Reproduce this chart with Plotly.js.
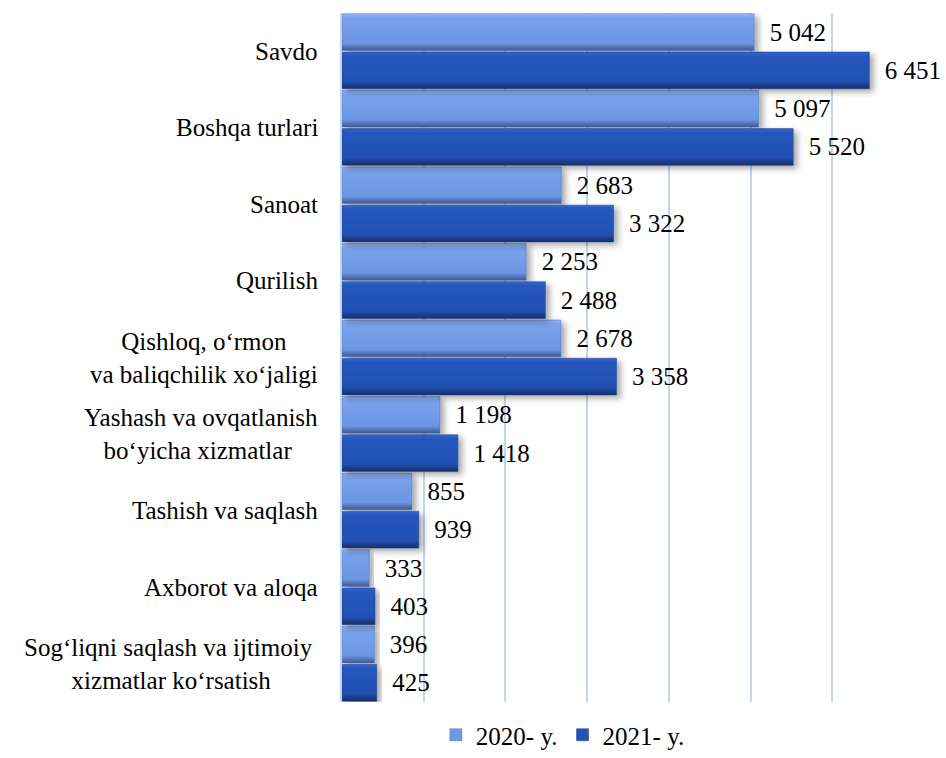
<!DOCTYPE html>
<html>
<head>
<meta charset="utf-8">
<script src="https://cdn.plot.ly/plotly-3.0.1.min.js"></script>
<style>body{margin:0;background:#fff}#chart{width:946px;height:758px}</style>
</head>
<body>
<div id="chart"></div>
<script>
const categories = ["Savdo", "Boshqa turlari", "Sanoat", "Qurilish", "Qishloq, o‘rmon<br>va baliqchilik xo‘jaligi", "Yashash va ovqatlanish<br>bo‘yicha xizmatlar ", "Tashish va saqlash", "Axborot va aloqa", "Sog‘liqni saqlash va ijtimoiy <br>xizmatlar ko‘rsatish"];
const values2020 = [5042, 5097, 2683, 2253, 2678, 1198, 855, 333, 396];
const values2021 = [6451, 5520, 3322, 2488, 3358, 1418, 939, 403, 425];
const seriesNames = ["2020- y.", "2021- y."];

function fmt(v){ return String(v).replace(/\B(?=(\d{3})+(?!\d))/g, " "); }
const pad = "\u00a0\u00a0";

const font = "Liberation Serif";
const FS = 25;

const traces = [
  {type:"bar", orientation:"h", name:seriesNames[0], y:categories, x:values2020,
   marker:{color:"#6f99e6", line:{color:"#4a6fb5", width:0.5}},
   text:values2020.map(v=>pad+fmt(v)), textposition:"outside", cliponaxis:false,
   textfont:{family:font, size:FS, color:"#000"}},
  {type:"bar", orientation:"h", name:seriesNames[1], y:categories, x:values2021,
   marker:{color:"#2451b5", line:{color:"#1a3a85", width:0.5}},
   text:values2021.map(v=>pad+fmt(v)), textposition:"outside", cliponaxis:false,
   textfont:{family:font, size:FS, color:"#000"}}
];

const annotations = categories.map(c=>({
  xref:"paper", yref:"y", x:0, y:c, xanchor:"right", yanchor:"middle",
  xshift:-22, text:c, showarrow:false, align:"center",
  font:{family:font, size:FS, color:"#000"}
}));

const layout = {
  width:946, height:758,
  margin:{l:342, r:31, t:13, b:56},
  paper_bgcolor:"#fff", plot_bgcolor:"#fff",
  barmode:"group", bargap:0.0, bargroupgap:0.04,
  font:{family:font, size:FS, color:"#000"},
  xaxis:{range:[0,7010], dtick:1000, tick0:0, showgrid:true, gridcolor:"#bdd7ee", gridwidth:1.5,
         showticklabels:false, zeroline:false, showline:false, ticks:""},
  yaxis:{autorange:"reversed", showticklabels:false, showline:true, linecolor:"#bdd7ee",
         linewidth:1.5, ticks:"", showgrid:false},
  showlegend:true,
  legend:{orientation:"h", x:0.595, xref:"container", xanchor:"center", y:0, yref:"container", yanchor:"bottom",
          font:{family:font, size:FS, color:"#000"}, itemwidth:30, traceorder:"normal"},
  annotations:annotations
};

Plotly.newPlot("chart", traces, layout, {displayModeBar:false}).then(gd=>{
  const svg = gd.querySelector("svg.main-svg");
  const ns = "http://www.w3.org/2000/svg";
  let defs = svg.querySelector("defs");
  if(!defs){ defs = document.createElementNS(ns,"defs"); svg.insertBefore(defs, svg.firstChild); }
  function grad(id, stops){
    const g = document.createElementNS(ns,"linearGradient");
    g.setAttribute("id",id); g.setAttribute("x1","0"); g.setAttribute("y1","0");
    g.setAttribute("x2","0"); g.setAttribute("y2","1");
    stops.forEach(([o,c])=>{const s=document.createElementNS(ns,"stop");
      s.setAttribute("offset",o); s.setAttribute("stop-color",c); g.appendChild(s);});
    defs.appendChild(g);
  }
  grad("g2020",[["0","#94b8f7"],["0.12","#7aa3ec"],["0.8","#6d96e2"],["0.9","#5675b8"],["1","#3f5a96"]]);
  grad("g2021",[["0","#3465cf"],["0.12","#2656bd"],["0.8","#2250b3"],["0.9","#1c3d8a"],["1","#15306d"]]);
  const f = document.createElementNS(ns,"filter");
  f.setAttribute("id","shadow"); f.setAttribute("x","-5%"); f.setAttribute("y","-20%");
  f.setAttribute("width","120%"); f.setAttribute("height","160%");
  const ds = document.createElementNS(ns,"feDropShadow");
  ds.setAttribute("dx","4"); ds.setAttribute("dy","3"); ds.setAttribute("stdDeviation","3");
  ds.setAttribute("flood-color","#000"); ds.setAttribute("flood-opacity","0.35");
  f.appendChild(ds); defs.appendChild(f);
  const tr = gd.querySelectorAll(".barlayer .trace");
  ["g2020","g2021"].forEach((id,i)=>{
    if(!tr[i]) return;
    tr[i].querySelectorAll("path").forEach(p=>{p.style.fill="url(#"+id+")"; p.style.filter="url(#shadow)";});
  });
});
</script>
</body>
</html>
